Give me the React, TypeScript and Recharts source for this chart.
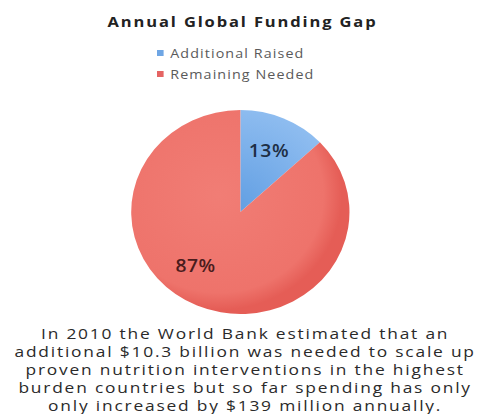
import React from "react";
import { PieChart, Pie, Cell } from "recharts";

const categories = ["Additional Raised", "Remaining Needed"];
const values = [13, 87];
const labels = ["13%", "87%"];
const title = "Annual Global Funding Gap";
const caption = [
  "In 2010 the World Bank estimated that an",
  "additional $10.3 billion was needed to scale up",
  "proven nutrition interventions in the highest",
  "burden countries but so far spending has only",
  "only increased by $139 million annually.",
];

const data = categories.map((name, i) => ({ name, value: values[i], label: labels[i] }));

const fills = ["url(#gBlue)", "url(#gRed)"];
const legendColors = ["#6fa6e4", "#e56463"];
const labelColors = ["#1e2f45", "#4a1c1c"];
const angleShift = [0, -15];

const RAD = Math.PI / 180;

const renderLabel = (props: any) => {
  const { cx, cy, midAngle, outerRadius, index } = props;
  const a = (midAngle + angleShift[index]) * RAD;
  const r = outerRadius * 0.66;
  const x = cx + r * Math.cos(a);
  const y = cy - r * Math.sin(a);
  return (
    <text
      x={x}
      y={y}
      textAnchor="middle"
      dominantBaseline="central"
      fill={labelColors[index]}
      style={{ fontFamily: "Open Sans", fontSize: 18, fontWeight: 600, letterSpacing: 0.5 }}
    >
      {data[index].label}
    </text>
  );
};

export default function App() {
  return (
    <div
      style={{
        position: "absolute",
        left: 0,
        top: 0,
        width: 491,
        height: 414,
        background: "#fff",
        overflow: "hidden",
      }}
    >
      <div
        style={{
          position: "absolute",
          left: 0,
          top: 11,
          width: 485,
          textAlign: "center",
          fontFamily: "Open Sans",
          fontWeight: 700,
          fontSize: 15,
          letterSpacing: 1.7,
          color: "#222",
          transform: "scaleX(1.1)",
          transformOrigin: "242px 0",
        }}
      >
        {title}
      </div>
      <div
        style={{
          position: "absolute",
          left: 157,
          top: 42,
          fontFamily: "Open Sans",
          fontSize: 13,
          color: "#5a5a5a",
          transform: "scaleX(1.1)",
          transformOrigin: "0 0",
        }}
      >
        {categories.map((c, i) => (
          <div key={c} style={{ display: "flex", alignItems: "center", height: 21 }}>
            <span
              style={{
                display: "inline-block",
                width: 6,
                height: 6,
                background: legendColors[i],
                marginRight: 6,
              }}
            />
            <span style={{ letterSpacing: 1 }}>{c}</span>
          </div>
        ))}
      </div>
      <div
        style={{
          position: "absolute",
          left: 0,
          top: 0,
          width: 491,
          height: 414,
          transform: "scaleX(1.07)",
          transformOrigin: "235px 0",
        }}
      >
        <PieChart width={491} height={414}>
          <defs>
            <radialGradient id="gBlue" cx="235" cy="207" r="102" gradientUnits="userSpaceOnUse">
              <stop offset="0%" stopColor="#629fe3" />
              <stop offset="100%" stopColor="#8fbdf0" />
            </radialGradient>
            <radialGradient id="gRed" cx="220" cy="195" r="115" gradientUnits="userSpaceOnUse">
              <stop offset="0%" stopColor="#f17d75" />
              <stop offset="85%" stopColor="#ee736b" />
              <stop offset="100%" stopColor="#e55d56" />
            </radialGradient>
          </defs>
          <Pie
            data={data}
            dataKey="value"
            nameKey="name"
            cx={235}
            cy={207}
            outerRadius={102}
            startAngle={90}
            endAngle={-270}
            stroke="none"
            isAnimationActive={false}
            labelLine={false}
            label={renderLabel}
          >
            {data.map((d, i) => (
              <Cell key={d.name} fill={fills[i]} />
            ))}
          </Pie>
        </PieChart>
      </div>
      <div
        style={{
          position: "absolute",
          left: 0,
          top: 325,
          width: 491,
          textAlign: "center",
          fontFamily: "Open Sans",
          fontSize: 14,
          lineHeight: "18px",
          letterSpacing: 1.45,
          color: "#2a2a2a",
          transform: "scaleX(1.24)",
          transformOrigin: "247px 0",
        }}
      >
        {caption.map((l) => (
          <div key={l}>{l}</div>
        ))}
      </div>
    </div>
  );
}
